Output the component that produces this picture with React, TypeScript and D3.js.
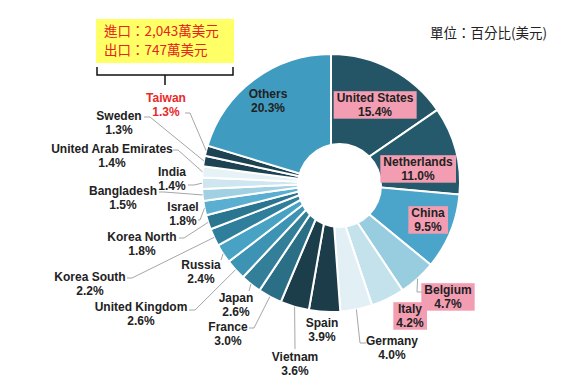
import React, { useEffect, useRef } from "react";
import * as d3 from "d3";

// export destinations, share of total (%)
const countries = [
  "United States", "Netherlands", "China", "Belgium", "Italy", "Germany",
  "Spain", "Vietnam", "France", "Japan", "United Kingdom", "Russia",
  "Korea South", "Korea North", "Israel", "Bangladesh", "India",
  "United Arab Emirates", "Sweden", "Taiwan", "Others",
];
const shares = [
  15.4, 11.0, 9.5, 4.7, 4.2, 4.0, 3.9, 3.6, 3.0, 2.6, 2.6, 2.4,
  2.2, 1.8, 1.8, 1.5, 1.4, 1.4, 1.3, 1.3, 20.3,
];
const tradeLines = ["進口：2,043萬美元", "出口：747萬美元"];
const unitLabel = "單位：百分比(美元)";

const palette = [
  "#235567", "#245a6c", "#4ba4c9", "#98cde0", "#c3e2ec", "#e2f0f5",
  "#1b3c48", "#1c3e4a", "#2a6f86", "#337f99", "#3d93b3", "#47a2c4",
  "#2f7f9c", "#2a7590", "#5aaed0", "#a0d0e2", "#cde6ef", "#e6f2f6",
  "#1d4352", "#1d4352", "#3f9bc0",
];

// label layout: text centre, optional leader (start, elbow), pink box
type Lbl = { x: number; y: number; line?: [number, number, number, number]; box?: boolean; color?: string };
const labelLayout: Record<string, Lbl> = {
  "United States": { x: 375, y: 98, box: true },
  Netherlands: { x: 418, y: 162, box: true },
  China: { x: 428, y: 213, box: true },
  Belgium: { x: 448, y: 290, box: true, line: [422, 292, 417, 292] },
  Italy: { x: 410, y: 309, box: true },
  Germany: { x: 392, y: 341, line: [366, 343, 360, 343] },
  Spain: { x: 322, y: 323 },
  Vietnam: { x: 295, y: 357, line: [295, 349, 295, 349] },
  France: { x: 228, y: 327, line: [249, 328, 254, 328] },
  Japan: { x: 236, y: 298, line: [249, 291, 249, 291] },
  "United Kingdom": { x: 141, y: 307, line: [189, 310, 195, 310] },
  Russia: { x: 201, y: 265, line: [221, 260, 221, 260] },
  "Korea South": { x: 90, y: 277, line: [127, 278, 132, 278] },
  "Korea North": { x: 142, y: 237, line: [179, 238, 184, 238] },
  Israel: { x: 183, y: 207, line: [198, 220, 200, 220] },
  Bangladesh: { x: 123, y: 191, line: [159, 192, 164, 192] },
  India: { x: 172, y: 172, line: [188, 185, 194, 185] },
  "United Arab Emirates": { x: 112, y: 149, line: [173, 150, 178, 150] },
  Sweden: { x: 119, y: 116, line: [144, 117, 150, 117] },
  Taiwan: { x: 166, y: 98, line: [185, 113, 190, 113], color: "#e8292b" },
  Others: { x: 268, y: 94 },
};

const App = () => {
  const ref = useRef<SVGSVGElement>(null);

  useEffect(() => {
    const width = 576;
    const height = 387;
    const cx = 331;
    const cy = 183;
    const radius = 129;

    const svg = d3.select(ref.current)
      .attr("width", width)
      .attr("height", height);
    svg.selectAll("*").remove();

    const data = countries.map((c, i) => ({ name: c, value: shares[i], color: palette[i] }));

    const pie = d3.pie<any>().sort(null).value(d => d.value);
    const arcs = pie(data);
    const arc = d3.arc<any>().innerRadius(0).outerRadius(radius);
    const edge = d3.arc<any>().innerRadius(radius).outerRadius(radius);

    const g = svg.append("g").attr("transform", `translate(${cx}, ${cy})`);
    g.selectAll("path")
      .data(arcs)
      .enter()
      .append("path")
      .attr("d", arc)
      .attr("fill", d => d.data.color)
      .attr("stroke", "#fff")
      .attr("stroke-width", 2);

    // the hole sits a little right of the pie centre in the original
    svg.append("circle")
      .attr("cx", 339.5)
      .attr("cy", 185.5)
      .attr("r", 42.5)
      .attr("fill", "#fff");

    // leader lines
    arcs.forEach(a => {
      const l = labelLayout[a.data.name];
      if (!l || !l.line) return;
      const [ex, ey] = edge.centroid(a);
      svg.append("polyline")
        .attr("points", `${l.line[0]},${l.line[1]} ${l.line[2]},${l.line[3]} ${cx + ex},${cy + ey}`)
        .attr("fill", "none")
        .attr("stroke", "#a6a6a6")
        .attr("stroke-width", 1);
    });

    // data labels
    arcs.forEach(a => {
      const l = labelLayout[a.data.name];
      if (!l) return;
      const grp = svg.append("g");
      const t = grp.append("text")
        .attr("text-anchor", "middle")
        .attr("font-family", "'Liberation Sans', Arial, sans-serif")
        .attr("font-size", 12)
        .attr("font-weight", "bold")
        .attr("fill", l.color || "#222");
      t.append("tspan").attr("x", l.x).attr("y", l.y).attr("dy", "0.35em").text(a.data.name);
      t.append("tspan").attr("x", l.x).attr("y", l.y + 13.5).attr("dy", "0.35em")
        .text(`${a.data.value.toFixed(1)}%`);
      if (l.box) {
        const bb = (t.node() as SVGTextElement).getBBox();
        grp.insert("rect", "text")
          .attr("x", bb.x - 3)
          .attr("y", bb.y)
          .attr("width", bb.width + 6)
          .attr("height", bb.height)
          .attr("fill", "#f29db2");
      }
    });

    // trade note with bracket
    svg.append("rect")
      .attr("x", 96).attr("y", 19).attr("width", 138).attr("height", 44)
      .attr("fill", "#ffff66");
    tradeLines.forEach((s, i) => {
      svg.append("text")
        .attr("x", 104)
        .attr("y", 31.5 + i * 18.5)
        .attr("dy", "0.35em")
        .attr("font-family", "'Noto Sans CJK TC', sans-serif")
        .attr("font-size", 13.5)
        .attr("fill", "#e5231f")
        .text(s);
    });
    svg.append("path")
      .attr("d", "M97,67 V75 H233 V67 M165,75 V85")
      .attr("fill", "none")
      .attr("stroke", "#111")
      .attr("stroke-width", 1.5);

    svg.append("text")
      .attr("x", 430)
      .attr("y", 33)
      .attr("dy", "0.35em")
      .attr("font-family", "'Noto Sans CJK TC', sans-serif")
      .attr("font-size", 13.5)
      .attr("fill", "#222")
      .text(unitLabel);
  }, []);

  return (
    <svg ref={ref} style={{ position: "absolute", left: 0, top: 0, background: "#fff" }}></svg>
  );
};

export default App;
